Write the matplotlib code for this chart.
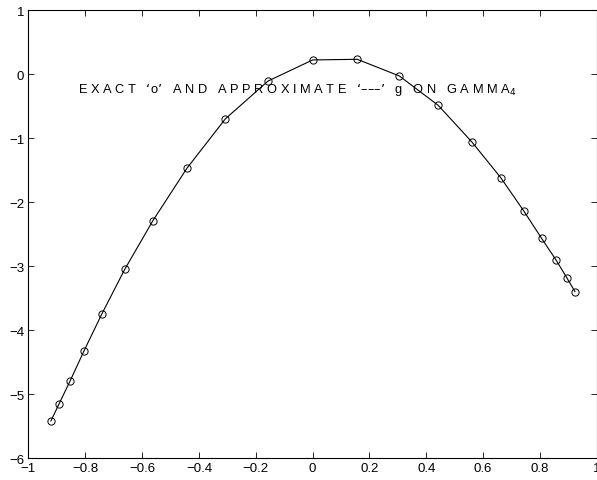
import matplotlib
matplotlib.use("Agg")
import matplotlib.pyplot as plt

x_nodes = [-0.921, -0.893, -0.854, -0.805, -0.742, -0.661, -0.562, -0.442, -0.307, -0.157,
           0.0, 0.157, 0.305, 0.442, 0.560, 0.662, 0.743, 0.806, 0.857, 0.894, 0.923]
g_exact = [-5.42, -5.16, -4.80, -4.33, -3.75, -3.05, -2.29, -1.47, -0.70, -0.11,
           0.22, 0.23, -0.03, -0.49, -1.06, -1.62, -2.14, -2.57, -2.91, -3.18, -3.40]

xticks = [-1, -0.8, -0.6, -0.4, -0.2, 0, 0.2, 0.4, 0.6, 0.8, 1]
yticks = [-6, -5, -4, -3, -2, -1, 0, 1]

plt.rcParams.update({"font.family": ["Liberation Sans", "DejaVu Sans"], "font.size": 9.5,
                     "axes.linewidth": 0.8, "xtick.direction": "in", "ytick.direction": "in",
                     "xtick.major.size": 4, "ytick.major.size": 4,
                     "xtick.major.width": 0.6, "ytick.major.width": 0.6,
                     "axes.unicode_minus": True})

fig = plt.figure(figsize=(5.97, 4.81), dpi=100)
ax = fig.add_axes([0.0477, 0.0457, 0.952, 0.9314])

# approximate g as line, exact values as open circles
ax.plot(x_nodes, g_exact, color="black", lw=0.8)
ax.plot(x_nodes, g_exact, ls="none", marker="o", ms=5.2, mfc="none", mec="black", mew=0.7)

ax.text(-0.826, -0.28,
        "E X A C T   \u2018o\u2019   A N D   A P P R O X I M A T E   \u2018\u2013\u2013\u2013\u2019   g   O N   G A M M A$_4$",
        fontsize=9.3, ha="left", va="baseline")

ax.set_xlim(-1, 1)
ax.set_ylim(-6, 1)
ax.set_xticks(xticks)
ax.set_xticklabels(["\u22121", "\u22120.8", "\u22120.6", "\u22120.4", "\u22120.2", "0",
                    "0.2", "0.4", "0.6", "0.8", "1"])
ax.set_yticks(yticks)
ax.set_yticklabels(["\u22126", "\u22125", "\u22124", "\u22123", "\u22122", "\u22121", "0", "1"])
ax.tick_params(top=True, right=True, pad=3)

fig.savefig("out.png", dpi=100)
